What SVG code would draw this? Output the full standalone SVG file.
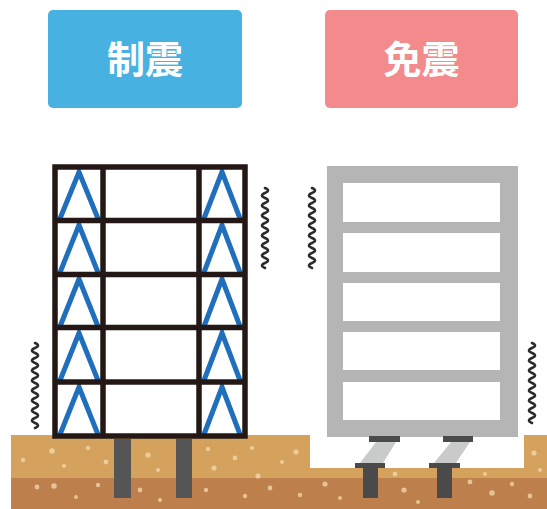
<svg xmlns="http://www.w3.org/2000/svg" width="547" height="509" viewBox="0 0 547 509">
  <style>
    .label { font-family: "Noto Sans CJK JP", "Noto Sans", sans-serif; font-weight: bold; font-size: 38px; fill: #ffffff; text-anchor: middle; }
    .frame { stroke: #231815; stroke-width: 5.5; fill: none; }
    .brace { stroke: #1f6fbd; stroke-width: 5; fill: none; stroke-linejoin: miter; }
    .wave { stroke: #2b2b2b; stroke-width: 2.6; fill: none; stroke-linecap: round; }
    .pile { fill: #555555; }
    .dot { fill: #f3d9ad; opacity: 0.75; }
  </style>

  <rect width="547" height="509" fill="#ffffff"/>

  <!-- ground: upper sandy layer and lower clay layer, with a pit under the isolated building -->
  <g id="ground">
    <path d="M11 435 H310 V468 H524 V435 H547 V509 H11 Z" fill="#d5a25d"/>
    <rect x="11" y="478" width="536" height="31" fill="#bd7f4c"/>
    <g>
      <circle class="dot" cx="23" cy="460" r="2.2"/>
      <circle class="dot" cx="52" cy="451" r="2.8"/>
      <circle class="dot" cx="64" cy="466" r="2"/>
      <circle class="dot" cx="37" cy="487" r="2.4"/>
      <circle class="dot" cx="54" cy="486" r="2.8"/>
      <circle class="dot" cx="76" cy="497" r="2"/>
      <circle class="dot" cx="88" cy="448" r="2.2"/>
      <circle class="dot" cx="106" cy="462" r="2.4"/>
      <circle class="dot" cx="98" cy="485" r="2.2"/>
      <circle class="dot" cx="148" cy="455" r="2.6"/>
      <circle class="dot" cx="158" cy="470" r="2"/>
      <circle class="dot" cx="140" cy="490" r="2.4"/>
      <circle class="dot" cx="160" cy="500" r="2"/>
      <circle class="dot" cx="208" cy="449" r="2.2"/>
      <circle class="dot" cx="214" cy="468" r="2.6"/>
      <circle class="dot" cx="206" cy="490" r="2.2"/>
      <circle class="dot" cx="235" cy="458" r="2.4"/>
      <circle class="dot" cx="252" cy="448" r="2"/>
      <circle class="dot" cx="258" cy="476" r="2.6"/>
      <circle class="dot" cx="245" cy="496" r="2.2"/>
      <circle class="dot" cx="270" cy="488" r="2.4"/>
      <circle class="dot" cx="282" cy="462" r="2"/>
      <circle class="dot" cx="296" cy="452" r="2.6"/>
      <circle class="dot" cx="300" cy="495" r="2.2"/>
      <circle class="dot" cx="325" cy="484" r="2.6"/>
      <circle class="dot" cx="340" cy="498" r="2"/>
      <circle class="dot" cx="395" cy="474" r="2.4"/>
      <circle class="dot" cx="404" cy="490" r="2.6"/>
      <circle class="dot" cx="418" cy="502" r="2"/>
      <circle class="dot" cx="470" cy="482" r="2.4"/>
      <circle class="dot" cx="485" cy="474" r="2"/>
      <circle class="dot" cx="492" cy="493" r="2.8"/>
      <circle class="dot" cx="512" cy="484" r="2.2"/>
      <circle class="dot" cx="534" cy="453" r="2.6"/>
      <circle class="dot" cx="540" cy="470" r="2"/>
      <circle class="dot" cx="530" cy="496" r="2.4"/>
    </g>
  </g>

  <!-- headings -->
  <g id="label-damping">
    <rect x="48" y="10" width="194" height="98" rx="5" fill="#47b2e2"/>
    <text class="label" x="145" y="73">制震</text>
  </g>
  <g id="label-isolation">
    <rect x="325" y="10" width="193" height="98" rx="5" fill="#f38a8c"/>
    <text class="label" x="421.5" y="73">免震</text>
  </g>

  <!-- damped building: frame with chevron braces in the side bays -->
  <g id="building-damping">
    <rect x="55" y="167" width="190" height="269" fill="#ffffff"/>
    <g>
      <polyline class="brace" points="59,221 79,172 99,221"/>
      <polyline class="brace" points="59,275 79,225 99,275"/>
      <polyline class="brace" points="59,329 79,279 99,329"/>
      <polyline class="brace" points="59,383 79,333 99,383"/>
      <polyline class="brace" points="59,437 79,387 99,437"/>
      <polyline class="brace" points="203,221 222,172 241,221"/>
      <polyline class="brace" points="203,275 222,225 241,275"/>
      <polyline class="brace" points="203,329 222,279 241,329"/>
      <polyline class="brace" points="203,383 222,333 241,383"/>
      <polyline class="brace" points="203,437 222,387 241,437"/>
    </g>
    <rect class="frame" x="55" y="167" width="190" height="269"/>
    <line class="frame" x1="103" y1="167" x2="103" y2="436"/>
    <line class="frame" x1="199" y1="167" x2="199" y2="436"/>
    <line class="frame" x1="55" y1="220.5" x2="245" y2="220.5"/>
    <line class="frame" x1="55" y1="274.5" x2="245" y2="274.5"/>
    <line class="frame" x1="55" y1="327.5" x2="245" y2="327.5"/>
    <line class="frame" x1="55" y1="382" x2="245" y2="382"/>
    <rect class="pile" x="114" y="439" width="17" height="59"/>
    <rect class="pile" x="176" y="439" width="16" height="59"/>
  </g>

  <!-- base-isolated building: grey frame on rubber bearings -->
  <g id="building-isolation">
    <rect x="327" y="166" width="191" height="271" fill="#b5b5b5"/>
    <rect x="343" y="183" width="157" height="39" fill="#ffffff"/>
    <rect x="343" y="233" width="157" height="39" fill="#ffffff"/>
    <rect x="343" y="283" width="157" height="38" fill="#ffffff"/>
    <rect x="343" y="332" width="157" height="38" fill="#ffffff"/>
    <rect x="343" y="382" width="157" height="38" fill="#ffffff"/>
    <g>
      <polygon points="376,442 396,442 383,463 360,463" fill="#c9cbcb"/>
      <rect x="369" y="436" width="31" height="6" fill="#4a4a4a"/>
      <rect x="355" y="463" width="30" height="5" fill="#4a4a4a"/>
      <rect x="363" y="468" width="15" height="30" fill="#4a4a4a"/>
    </g>
    <g>
      <polygon points="451,442 470,442 456,463 434,463" fill="#c9cbcb"/>
      <rect x="443" y="436" width="30" height="6" fill="#4a4a4a"/>
      <rect x="429" y="463" width="31" height="5" fill="#4a4a4a"/>
      <rect x="437" y="468" width="15" height="30" fill="#4a4a4a"/>
    </g>
  </g>

  <!-- shaking marks -->
  <g id="shake">
    <path class="wave" d="M35 343 q6 2.5 0 5 t0 5 t0 5 t0 5 t0 5 t0 5 t0 5 t0 5 t0 5 t0 5 t0 5 t0 5 t0 5 t0 5 t0 5 t0 5 t0 5"/>
    <path class="wave" d="M265 188 q6 2.5 0 5 t0 5 t0 5 t0 5 t0 5 t0 5 t0 5 t0 5 t0 5 t0 5 t0 5 t0 5 t0 5 t0 5 t0 5 t0 5"/>
    <path class="wave" d="M312 188 q6 2.5 0 5 t0 5 t0 5 t0 5 t0 5 t0 5 t0 5 t0 5 t0 5 t0 5 t0 5 t0 5 t0 5 t0 5 t0 5 t0 5"/>
    <path class="wave" d="M532 343 q6 2.5 0 5 t0 5 t0 5 t0 5 t0 5 t0 5 t0 5 t0 5 t0 5 t0 5 t0 5 t0 5 t0 5 t0 5 t0 5 t0 5"/>
  </g>
</svg>
